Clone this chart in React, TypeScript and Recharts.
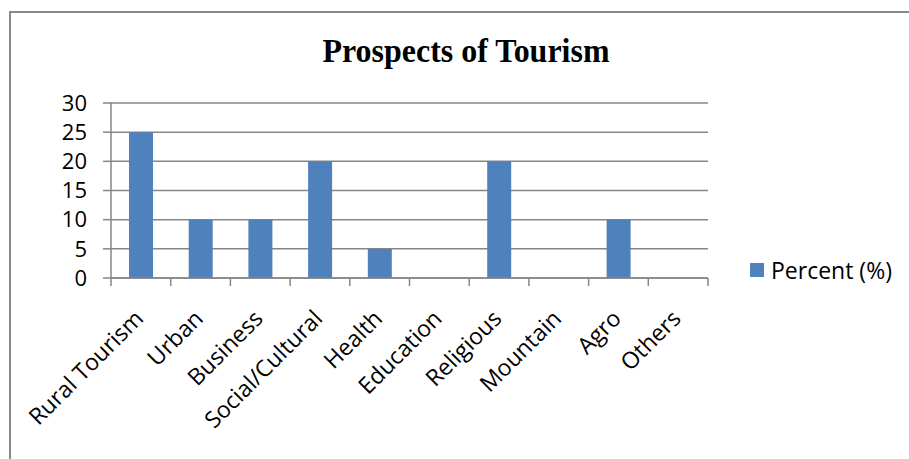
import React from 'react';
import { BarChart, Bar, XAxis, YAxis, CartesianGrid, Legend } from 'recharts';

const categories = ['Rural Tourism', 'Urban', 'Business', 'Social/Cultural', 'Health', 'Education', 'Religious', 'Mountain', 'Agro', 'Others'];
const percentValues = [25, 10, 10, 20, 5, 0, 20, 0, 10, 0];
const yTicks = [0, 5, 10, 15, 20, 25, 30];
const seriesName = 'Percent (%)';
const chartTitle = 'Prospects of Tourism';

const data = categories.map((c, i) => ({ category: c, percent: percentValues[i] }));

const GRID = '#868686';
const BAR = '#4F81BD';
const FONT = '"Open Sans", sans-serif';
const CHART_W = 909;
const CHART_H = 459;
const LEGEND_W = 159;
const PLOT_RIGHT_GAP = 201;
// Recharts adds the legend's box width to the right offset, so compensate for it here
const margin = { top: 103, right: PLOT_RIGHT_GAP - LEGEND_W, bottom: 0, left: 0 };
const Y_W = 111;
const bandWidth = (CHART_W - PLOT_RIGHT_GAP - Y_W) / categories.length;

const XTick = (props: any) => {
  const { x, y, payload, index } = props;
  const left = x - bandWidth / 2;
  const isLast = index === categories.length - 1;
  return (
    <g>
      <line x1={left} x2={left} y1={y} y2={y + 8} stroke={GRID} strokeWidth={1.5} />
      {isLast && <line x1={left + bandWidth} x2={left + bandWidth} y1={y} y2={y + 8} stroke={GRID} strokeWidth={1.5} />}
      <text
        transform={`translate(${x + 4},${y + 42}) rotate(-45)`}
        textAnchor="end"
        fontFamily={FONT}
        fontSize={23}
        fill="#000"
      >
        {payload.value}
      </text>
    </g>
  );
};

const LegendContent = (props: any) => {
  const { payload } = props;
  return (
    <div style={{ display: 'flex', alignItems: 'center' }}>
      {(payload || []).map((p: any, i: number) => (
        <div key={i} style={{ display: 'flex', alignItems: 'center' }}>
          <span style={{ display: 'inline-block', width: 14, height: 14, background: p.color }} />
          <span style={{ marginLeft: 7, fontSize: 23, fontFamily: FONT, color: '#000', lineHeight: '30px', whiteSpace: 'nowrap' }}>{p.value}</span>
        </div>
      ))}
    </div>
  );
};

export default function App() {
  return (
    <div style={{ position: 'absolute', left: 0, top: 0, width: CHART_W, height: CHART_H, overflow: 'hidden', background: '#fff' }}>
      <div style={{ position: 'absolute', left: 9, top: 11, width: 2000, height: 2000, border: '2px solid #8a8a8a' }} />
      <svg width={CHART_W} height={80} style={{ position: 'absolute', left: 0, top: 0 }}>
        <text
          x={466}
          y={62}
          textAnchor="middle"
          fontFamily='"Liberation Serif", "Times New Roman", serif'
          fontWeight="bold"
          fontSize={34}
          textLength={287}
          lengthAdjust="spacingAndGlyphs"
          fill="#000"
        >
          {chartTitle}
        </text>
      </svg>
      <div style={{ position: 'absolute', left: 0, top: 0 }}>
        <BarChart width={CHART_W} height={CHART_H} data={data} margin={margin}>
          <CartesianGrid vertical={false} stroke={GRID} strokeWidth={1.5} />
          <XAxis
            dataKey="category"
            interval={0}
            height={CHART_H - 278}
            tickLine={false}
            tickSize={0}
            tickMargin={0}
            axisLine={{ stroke: GRID, strokeWidth: 1.5 }}
            tick={<XTick />}
          />
          <YAxis
            domain={[0, 30]}
            ticks={yTicks}
            interval={0}
            width={Y_W}
            tickSize={8}
            tickMargin={16}
            axisLine={{ stroke: GRID, strokeWidth: 1.5 }}
            tickLine={{ stroke: GRID, strokeWidth: 1.5 }}
            tick={{ fill: '#000', fontSize: 22, fontFamily: FONT }}
          />
          <Legend
            layout="horizontal"
            verticalAlign="middle"
            align="right"
            wrapperStyle={{ left: 750, top: 255, right: 'auto', bottom: 'auto', width: LEGEND_W }}
            content={<LegendContent />}
          />
          <Bar dataKey="percent" name={seriesName} fill={BAR} barSize={24} isAnimationActive={false} />
        </BarChart>
      </div>
    </div>
  );
}
